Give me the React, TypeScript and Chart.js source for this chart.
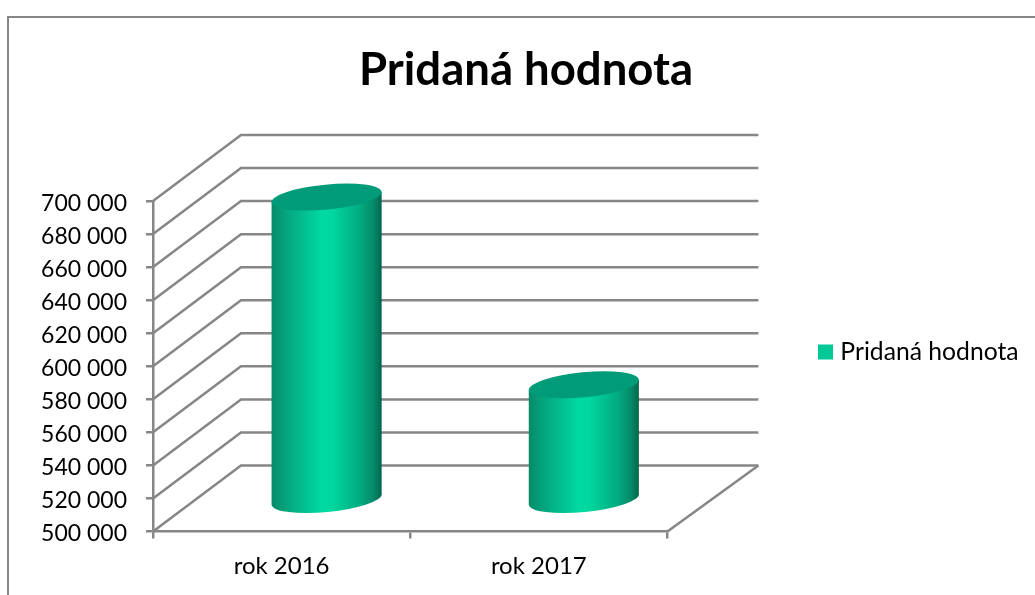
import React, { useEffect, useRef } from "react";
import { Chart, registerables } from "chart.js";

Chart.register(...registerables);

const categories = ["rok 2016", "rok 2017"];
const seriesName = "Pridaná hodnota";
const seriesValues = [683000, 569400];
const yMin = 500000;
const yMax = 700000;
const yStep = 20000;

const FONT = "Lato, Carlito, sans-serif";
const GRAY = "#868686";
const LEGEND_GREEN = "#00c896";

const wallDx = 88;
const wallDy = -66;
const floorDx = 91;
const barDx = 45;
const barDy = -32;

const drawCylinder = (ctx: CanvasRenderingContext2D, x: number, yTop: number, yBase: number, w: number) => {
  const a = w * 0.5018;
  const b = w * 0.1136;
  const theta = (-5.5 * Math.PI) / 180;
  const halfW = w / 2;
  const tangentY = 5;
  const grad = ctx.createLinearGradient(x - halfW, 0, x + halfW, 0);
  grad.addColorStop(0, "#078a68");
  grad.addColorStop(0.12, "#05a27c");
  grad.addColorStop(0.45, "#00d9a1");
  grad.addColorStop(0.55, "#00d8a0");
  grad.addColorStop(0.8, "#03ab81");
  grad.addColorStop(0.93, "#058a68");
  grad.addColorStop(1, "#03644b");
  ctx.save();
  ctx.fillStyle = grad;
  ctx.beginPath();
  ctx.ellipse(x, yBase, a, b, theta, 0, Math.PI * 2);
  ctx.fill();
  ctx.beginPath();
  ctx.moveTo(x - halfW, yTop + tangentY);
  ctx.lineTo(x + halfW, yTop - tangentY);
  ctx.lineTo(x + halfW, yBase - tangentY);
  ctx.lineTo(x - halfW, yBase + tangentY);
  ctx.closePath();
  ctx.fill();
  ctx.fillStyle = "#009b78";
  ctx.beginPath();
  ctx.ellipse(x, yTop, a, b, theta, 0, Math.PI * 2);
  ctx.fill();
  ctx.restore();
};

const chart3d = {
  id: "chart3d",
  afterLayout(chart: any) {
    const legend = chart.legend;
    legend.left = 813;
    legend.right = 1035;
    legend.top = 327;
    legend.bottom = 377;
    const title = chart.titleBlock;
    title.left = 17;
    title.right = 1035;
  },
  beforeDraw(chart: any) {
    const { ctx, width, height, chartArea, scales } = chart;
    // nudge the value labels down so the digits sit centred on their ticks
    scales.y.getLabelItems(chartArea).forEach((item: any) => {
      item.options.translation[1] += 2.5;
    });
    ctx.save();
    ctx.fillStyle = "#ffffff";
    ctx.fillRect(0, 0, width, height);
    ctx.strokeStyle = GRAY;
    ctx.lineWidth = 2;
    ctx.beginPath();
    ctx.moveTo(8, height);
    ctx.lineTo(8, 17);
    ctx.lineTo(width, 17);
    ctx.stroke();
    ctx.restore();
  },
  beforeDatasetsDraw(chart: any) {
    const { ctx, chartArea, scales } = chart;
    const y = scales.y;
    const { left, right, bottom } = chartArea;
    ctx.save();
    ctx.strokeStyle = GRAY;
    ctx.lineWidth = 2.5;
    y.ticks.forEach((t: any) => {
      const py = y.getPixelForValue(t.value);
      ctx.beginPath();
      ctx.moveTo(left, py);
      ctx.lineTo(left + wallDx, py + wallDy);
      ctx.lineTo(right + floorDx, py + wallDy);
      ctx.stroke();
    });
    ctx.beginPath();
    ctx.moveTo(right, bottom);
    ctx.lineTo(right + floorDx, bottom + wallDy);
    ctx.stroke();
    ctx.restore();
  },
  beforeDatasetDraw(chart: any, args: any) {
    const { ctx, chartArea } = chart;
    args.meta.data.forEach((bar: any) => {
      drawCylinder(ctx, bar.x + barDx, bar.y + barDy, chartArea.bottom + barDy, bar.width);
    });
    return false;
  },
};

export default function App() {
  const ref = useRef<HTMLCanvasElement>(null);
  useEffect(() => {
    const chart = new Chart(ref.current as HTMLCanvasElement, {
      type: "bar",
      data: {
        labels: categories,
        datasets: [
          {
            label: seriesName,
            data: seriesValues,
            backgroundColor: LEGEND_GREEN,
            barPercentage: 0.428,
            categoryPercentage: 1,
          },
        ],
      },
      plugins: [chart3d],
      options: {
        responsive: false,
        animation: false,
        layout: { padding: { left: 0, right: 152, top: 0, bottom: 0 } },
        plugins: {
          tooltip: { enabled: false },
          title: {
            display: true,
            text: seriesName,
            color: "#000000",
            font: { family: FONT, size: 45.5, weight: "bold" },
            padding: { top: 43, bottom: 103.4 },
          },
          legend: {
            display: true,
            position: "right",
            labels: {
              color: "#000000",
              font: { family: FONT, size: 24.7 },
              boxWidth: 5,
              boxHeight: 5,
              padding: 10,
              generateLabels: () => [
                {
                  text: seriesName,
                  fillStyle: LEGEND_GREEN,
                  strokeStyle: LEGEND_GREEN,
                  lineWidth: 10,
                  datasetIndex: 0,
                },
              ],
            },
          },
        },
        scales: {
          x: {
            grid: { drawOnChartArea: false, drawTicks: true, tickLength: 7, color: GRAY, lineWidth: 2.5, offset: true },
            border: { color: GRAY, width: 2.5 },
            ticks: { color: "#000000", font: { family: FONT, size: 24 }, padding: 13, maxRotation: 0 },
            afterFit: (s: any) => {
              s.height = 63.5;
            },
          },
          y: {
            min: yMin,
            max: yMax,
            grid: { drawOnChartArea: false, drawTicks: true, tickLength: 7, color: GRAY, lineWidth: 2.5 },
            border: { color: GRAY, width: 2.5 },
            ticks: {
              stepSize: yStep,
              color: "#000000",
              font: { family: FONT, size: 23 },
              padding: 19,
              autoSkip: false,
              callback: (v: any) => String(v).replace(/\B(?=(\d{3})+$)/g, " "),
            },
            afterFit: (s: any) => {
              s.width = 153;
            },
          },
        },
      },
    } as any);
    return () => chart.destroy();
  }, []);
  return (
    <canvas
      ref={ref}
      width={1035}
      height={595}
      style={{ position: "fixed", left: 0, top: 0, display: "block" }}
    />
  );
}
